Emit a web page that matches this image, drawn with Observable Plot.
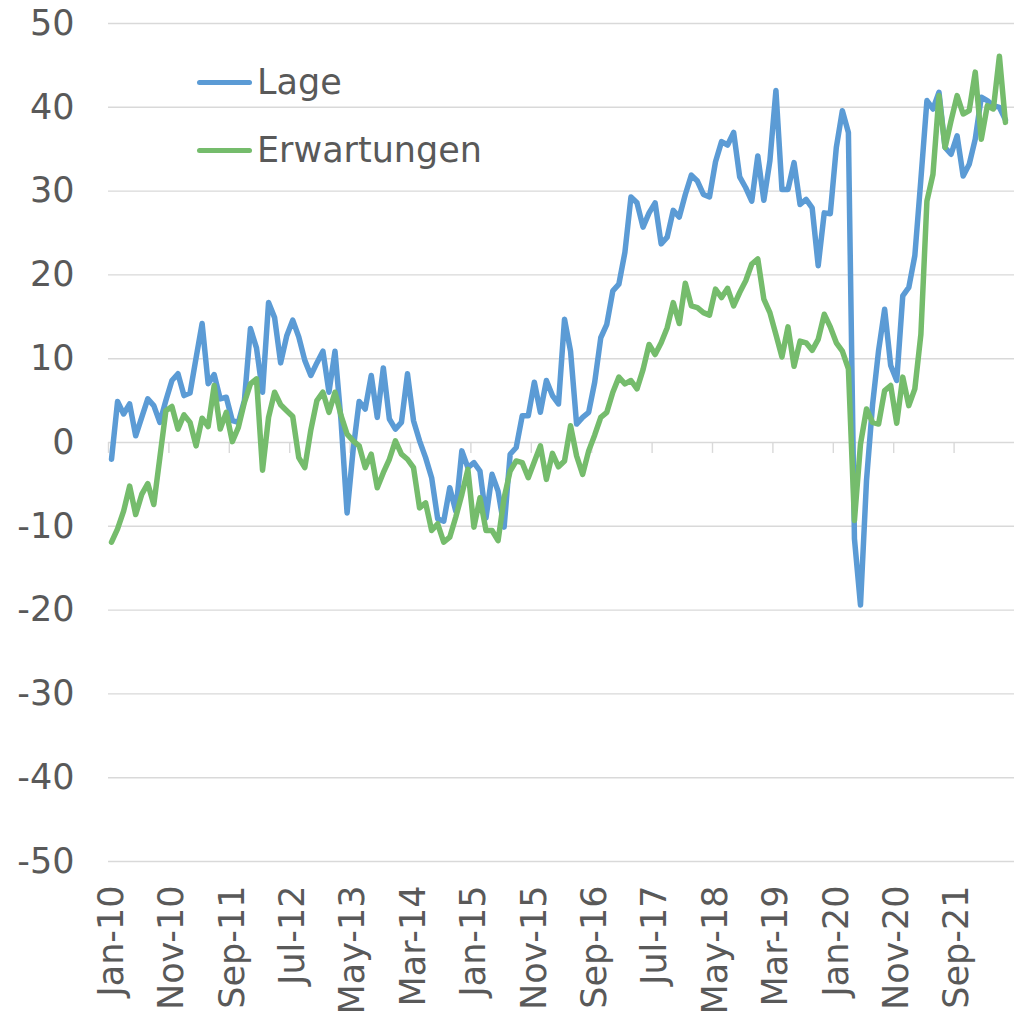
<!DOCTYPE html>
<html>
<head>
<meta charset="utf-8">
<script src="https://cdn.jsdelivr.net/npm/d3@7"></script>
<script src="https://cdn.jsdelivr.net/npm/@observablehq/plot@0.6"></script>
<style>
  html, body { margin: 0; padding: 0; background: #fff; }
  #wrap { position: relative; width: 1014px; height: 1018px; font-family: "DejaVu Sans", sans-serif; color: #595959; }
  .leg-line { position: absolute; height: 5px; width: 55px; border-radius: 3px; }
  .leg-text { position: absolute; font-size: 35px; line-height: 1; white-space: nowrap; }
</style>
</head>
<body>
<div id="wrap">
  <div id="chart"></div>
  <div class="leg-line" style="left:197px; top:80px; background:#5B9BD5;"></div>
  <div class="leg-text" style="left:257px; top:65px;">Lage</div>
  <div class="leg-line" style="left:197px; top:148px; background:#75BC6C;"></div>
  <div class="leg-text" style="left:257px; top:133px;">Erwartungen</div>
</div>
<script>
// Monthly values, Jan-10 .. May-22
const lage = [
  -2.0, 4.9, 3.4, 4.6, 0.8, 3.0, 5.2, 4.4, 2.4, 5.0,
  7.4, 8.2, 5.6, 5.9, 10.1, 14.2, 7.0, 8.1, 5.2, 5.4,
  2.6, 2.4, 5.0, 13.6, 11.3, 6.0, 16.7, 14.9, 9.5, 12.7,
  14.6, 12.6, 9.8, 8.0, 9.5, 10.9, 6.0, 10.9, 2.6, -8.4,
  -0.9, 4.9, 4.0, 8.0, 3.0, 8.9, 2.8, 1.6, 2.4, 8.2,
  2.6, 0.2, -1.8, -4.2, -9.1, -9.4, -5.4, -8.2, -1.0, -3.0,
  -2.4, -3.4, -9.0, -3.8, -5.8, -10.1, -1.4, -0.6, 3.2, 3.2,
  7.2, 3.6, 7.4, 5.6, 4.6, 14.7, 10.9, 2.2, 3.0, 3.6,
  7.2, 12.5, 14.1, 18.1, 18.9, 22.7, 29.3, 28.6, 25.7, 27.4,
  28.6, 23.7, 24.5, 27.7, 26.9, 29.6, 31.9, 31.2, 29.6, 29.3,
  33.5, 35.9, 35.5, 37.0, 31.7, 30.4, 28.8, 34.2, 28.9, 33.6,
  42.0, 30.2, 30.2, 33.4, 28.4, 29.0, 28.0, 21.1, 27.4, 27.3,
  35.2, 39.6, 37.0, -11.5, -19.4, -4.5, 4.5, 11.0, 15.9, 9.2,
  7.4, 17.5, 18.5, 22.3, 31.4, 40.8, 39.8, 41.8, 35.2, 34.4,
  36.6, 31.8, 33.2, 36.2, 41.2, 40.8, 40.2, 40.0, 38.5
];
const erwartungen = [
  -11.9, -10.3, -8.2, -5.2, -8.6, -6.2, -4.9, -7.4, -1.8, 3.8,
  4.3, 1.6, 3.3, 2.4, -0.4, 2.9, 1.9, 6.8, 1.6, 3.6,
  0.1, 1.8, 4.8, 7.0, 7.6, -3.3, 3.0, 6.0, 4.5, 3.8,
  3.1, -1.8, -3.0, 1.5, 5.0, 6.0, 3.6, 6.0, 3.2, 1.0,
  0.2, -0.4, -3.0, -1.4, -5.4, -3.6, -2.0, 0.2, -1.4, -2.0,
  -3.0, -7.8, -7.2, -10.5, -9.7, -11.9, -11.3, -8.9, -6.2, -3.2,
  -10.1, -6.6, -10.5, -10.5, -11.7, -6.6, -3.4, -2.2, -2.4, -4.2,
  -2.3, -0.4, -4.4, -1.3, -2.9, -2.2, 2.0, -1.6, -3.8, -1.0,
  0.9, 3.0, 3.6, 6.0, 7.8, 7.0, 7.4, 6.4, 8.7, 11.7,
  10.5, 11.9, 13.7, 16.7, 14.2, 19.0, 16.3, 16.1, 15.5, 15.2,
  18.3, 17.3, 18.4, 16.3, 17.9, 19.3, 21.3, 21.9, 17.1, 15.5,
  12.9, 10.2, 13.8, 9.1, 12.1, 11.9, 11.0, 12.3, 15.3, 13.8,
  11.9, 10.9, 8.8, -9.3, -0.2, 4.0, 2.4, 2.2, 6.2, 6.8,
  2.3, 7.8, 4.4, 6.4, 12.9, 28.8, 32.0, 41.4, 35.2, 38.4,
  41.4, 39.2, 39.6, 44.2, 36.2, 40.2, 39.8, 46.1, 38.2
];
const tickLabels = ["Jan-10","Nov-10","Sep-11","Jul-12","May-13","Mar-14","Jan-15","Nov-15","Sep-16","Jul-17","May-18","Mar-19","Jan-20","Nov-20","Sep-21"];
const yTicks = [-50, -40, -30, -20, -10, 0, 10, 20, 30, 40, 50];
const labelEvery = 10;
const nCategories = 150;

const tickIdx = tickLabels.map((_, k) => k * labelEvery);
const boundaries = tickIdx.map(i => i - 0.5);
const lageData = lage.map((v, i) => ({i, v}));
const erwData = erwartungen.map((v, i) => ({i, v}));

const chart = Plot.plot({
  width: 1014,
  height: 1018,
  marginLeft: 108,
  marginRight: 0,
  marginTop: 23,
  marginBottom: 157,
  style: {fontFamily: "DejaVu Sans, sans-serif", fontSize: "35px", color: "#595959", background: "#fff", overflow: "visible"},
  x: {domain: [-0.5, nCategories - 0.5]},
  y: {domain: [-50, 50]},
  marks: [
    Plot.ruleY(yTicks, {stroke: "#d9d9d9", strokeWidth: 1.4}),
    Plot.ruleX(boundaries, {y1: 0, y2: -1.3, stroke: "#d9d9d9", strokeWidth: 1.4}),
    Plot.line(lageData, {x: "i", y: "v", stroke: "#5B9BD5", strokeWidth: 5.5, strokeLinejoin: "round", strokeLinecap: "round"}),
    Plot.line(erwData, {x: "i", y: "v", stroke: "#75BC6C", strokeWidth: 5.5, strokeLinejoin: "round", strokeLinecap: "round"}),
    Plot.axisY(yTicks, {tickSize: 0, tickPadding: 34, fontSize: 35, fill: "#595959", label: null,
      tickFormat: d => String(d)}),
    Plot.axisX(tickIdx, {tickSize: 0, tickPadding: 24, tickRotate: -90, fontSize: 35, fill: "#595959", label: null,
      tickFormat: i => tickLabels[i / labelEvery]})
  ]
});
document.getElementById("chart").appendChild(chart);
</script>
</body>
</html>
